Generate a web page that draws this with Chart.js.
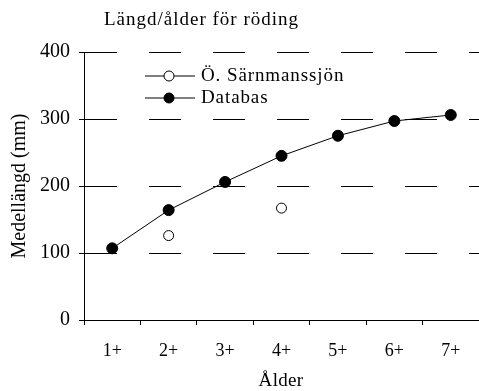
<!DOCTYPE html>
<html>
<head>
<meta charset="utf-8">
<script src="https://cdn.jsdelivr.net/npm/chart.js@4/dist/chart.umd.min.js"></script>
<style>
html,body{margin:0;padding:0;background:#fff;}
#wrap{width:479px;height:391px;position:relative;}
</style>
</head>
<body>
<div id="wrap"><canvas id="c" width="479" height="391"></canvas></div>
<script>
const categories = ['1+','2+','3+','4+','5+','6+','7+'];
const sarnmansValues = [null,126,null,167,null,null,null];
const databasValues = [107,164,206,245,275,297,306];
const yTicks = [0,100,200,300,400];
const chartTitle = 'Längd/ålder för röding';
const seriesNames = ['Ö. Särnmanssjön','Databas'];
const xTitle = 'Ålder';
const yTitle = 'Medellängd (mm)';

const FONT = '"Liberation Serif", "Times New Roman", serif';

const overlay = {
  id:'overlay',
  afterDraw(chart){
    const ctx = chart.ctx;
    ctx.save();
    ctx.fillStyle = '#000';
    ctx.textBaseline = 'middle';
    ctx.textAlign = 'left';
    ctx.font = '19px ' + FONT;
    ctx.letterSpacing = '1px';
    ctx.fillText(chartTitle, 104, 20);
    ctx.letterSpacing = '0.9px';
    // legend
    const rows = [{y:76, fill:'#fff'},{y:98, fill:'#000'}];
    rows.forEach((r,i)=>{
      ctx.strokeStyle = '#000';
      ctx.lineWidth = 1;
      ctx.beginPath();
      ctx.moveTo(145, r.y); ctx.lineTo(195, r.y);
      ctx.stroke();
      ctx.beginPath();
      ctx.arc(169, r.y, 5, 0, Math.PI*2);
      ctx.fillStyle = r.fill;
      ctx.fill();
      ctx.stroke();
      ctx.fillStyle = '#000';
      ctx.font = '19px ' + FONT;
      ctx.fillText(seriesNames[i], 201, r.y);
    });
    // axis titles
    ctx.letterSpacing = '0.3px';
    ctx.textAlign = 'center';
    ctx.font = '19px ' + FONT;
    ctx.fillText(xTitle, 281, 381);
    ctx.translate(20, 186);
    ctx.rotate(-Math.PI/2);
    ctx.letterSpacing = '0px';
    ctx.font = '20px ' + FONT;
    ctx.fillText(yTitle, 0, 0);
    ctx.restore();
  }
};

new Chart(document.getElementById('c'), {
  type:'line',
  data:{
    labels: categories,
    datasets:[
      {label:seriesNames[0], data:sarnmansValues, showLine:false, pointRadius:5, pointHoverRadius:5,
       pointBackgroundColor:'#fff', pointBorderColor:'#000', pointBorderWidth:1, borderColor:'#000'},
      {label:seriesNames[1], data:databasValues, borderColor:'#000', borderWidth:1, pointRadius:5.5, pointHoverRadius:5.5,
       pointBackgroundColor:'#000', pointBorderColor:'#000', tension:0}
    ]
  },
  options:{
    responsive:false, animation:false, devicePixelRatio:1,
    layout:{autoPadding:false, padding:{top:52, right:-2, left:0, bottom:0}},
    plugins:{legend:{display:false}, title:{display:false}, tooltip:{enabled:false}},
    scales:{
      x:{
        type:'category', offset:true,
        grid:{display:true, offset:true, drawOnChartArea:false, drawTicks:true, tickLength:5, color:'#000', lineWidth:1},
        border:{display:true, color:'#000', width:1},
        ticks:{color:'#000', font:{family:FONT, size:18}, padding:15, maxRotation:0},
        afterFit(s){ s.height = 71; }
      },
      y:{
        min:0, max:400,
        afterBuildTicks(s){ s.ticks = yTicks.map(v=>({value:v})); },
        grid:{display:true, color:'#000', lineWidth:1, drawTicks:true, tickLength:5},
        border:{display:true, color:'#000', width:1, dash:[32,32]},
        ticks:{color:'#000', font:{family:FONT, size:20}, padding:9},
        afterFit(s){ s.width = 84; }
      }
    }
  },
  plugins:[overlay]
});
</script>
</body>
</html>
